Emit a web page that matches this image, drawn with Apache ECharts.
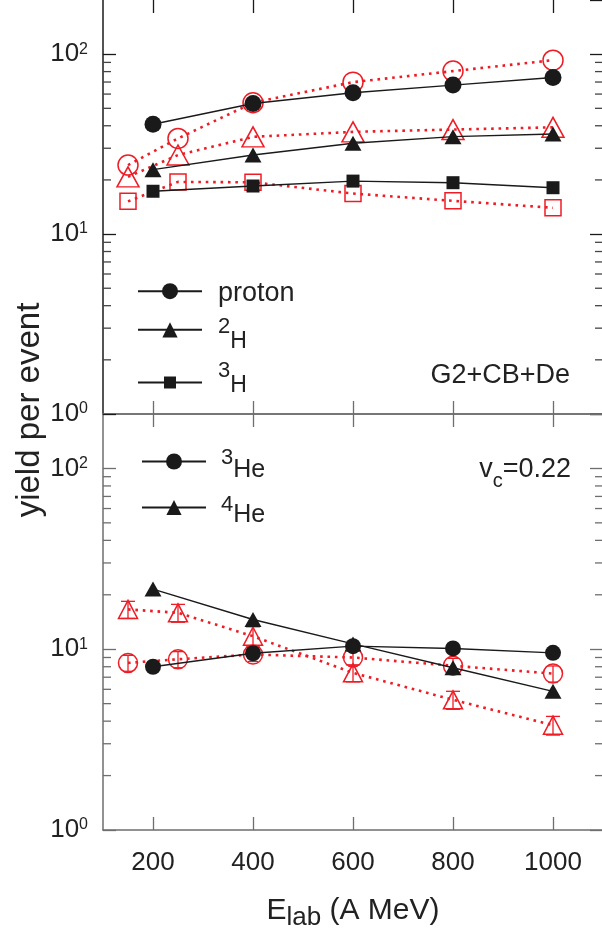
<!DOCTYPE html>
<html>
<head>
<meta charset="utf-8">
<script src="https://cdn.jsdelivr.net/npm/echarts@6/dist/echarts.min.js"></script>
<style>
html,body{margin:0;padding:0;background:#fff;}
#chart{width:602px;height:936px;}
</style>
</head>
<body>
<div id="chart"></div>
<script>
// ---------- data ----------
const xTicks = [200, 400, 600, 800, 1000];
const xMin = 100, xMax = 1100;
const yMin = 1, yMax = 200;
const yMinor = [2, 3, 4, 5, 6, 7, 8, 9, 20, 30, 40, 50, 60, 70, 80, 90];

const energiesExp = [200, 400, 600, 800, 1000];
const energiesModel = [150, 250, 400, 600, 800, 1000];

// top panel (Z=1)
const protonExp   = [40.8, 53.2, 61.0, 67.3, 74.2];
const h2Exp       = [22.8, 27.5, 32.0, 34.8, 36.0];
const h3Exp       = [17.3, 18.5, 19.7, 19.3, 18.1];
const protonModel = [24.2, 34.0, 53.7, 69.9, 80.5, 92.6];
const h2Model     = [20.8, 27.5, 34.7, 37.0, 38.1, 39.2];
const h3Model     = [15.2, 19.5, 19.4, 16.8, 15.3, 14.0];

// bottom panel (Z=2)
const he3Exp      = [8.0, 9.5, 10.4, 10.1, 9.55];
const he4Exp      = [21.5, 14.6, 10.7, 7.9, 5.85];
const he3Model    = [8.4, 8.8, 9.35, 9.0, 8.1, 7.33];
const he4Model    = [16.6, 15.9, 11.8, 7.4, 5.25, 3.8];
const he3ModelErr = [0.85, 0.9, 0.8, 0.9, 0.8, 0.75];
const he4ModelErr = [1.8, 1.8, 1.5, 0.8, 0.6, 0.45];

// ---------- styles ----------
const FONT = '"Liberation Sans", Arial, Helvetica, sans-serif';
const RED = '#ee1c25';
const BLACK = '#1a1a1a';
const GREY = '#6e6e6e';
const TXT = '#222';

function pairs(xs, ys) { return xs.map((x, i) => [x, ys[i]]); }

function yLabelFmt(v) {
  const e = Math.round(Math.log10(v));
  return '{m|10}{s|' + e + '}';
}
const yLabelRich = {
  m: {fontSize: 26, lineHeight: 26, color: TXT, fontFamily: FONT},
  s: {fontSize: 16, lineHeight: 18, verticalAlign: 'top', color: TXT, fontFamily: FONT}
};

function xAxisDef(grid, pos, lineColor, showLine, showLabels) {
  return {
    gridIndex: grid, type: 'value', position: pos, min: xMin, max: xMax,
    axisLine: {show: showLine, onZero: false, lineStyle: {color: lineColor, width: 1.5}},
    axisTick: {show: true, inside: true, length: 13, customValues: xTicks, lineStyle: {color: lineColor, width: 1.3}},
    axisLabel: showLabels ? {show: true, customValues: xTicks, fontSize: 26, color: TXT, fontFamily: FONT, margin: 20,
                             formatter: v => String(v)}
                          : {show: false},
    splitLine: {show: false}
  };
}
function yAxisDef(grid, pos, lineColor, showLabels) {
  return {
    gridIndex: grid, type: 'log', logBase: 10, position: pos, min: yMin, max: yMax,
    axisLine: {show: true, lineStyle: {color: lineColor, width: 1.5}},
    axisTick: {show: true, inside: true, length: 13, lineStyle: {color: lineColor, width: 1.3}},
    axisLabel: showLabels ? {show: true, formatter: yLabelFmt, rich: yLabelRich, margin: 15, showMaxLabel: false}
                          : {show: false},
    splitLine: {show: false},
    minorTick: {show: false}
  };
}

function minorTicks(xi, yi, color) {
  return {
    type: 'custom', xAxisIndex: xi, yAxisIndex: yi, silent: true, z: 1,
    data: yMinor.map(v => [xMin, v]),
    renderItem: function (params, api) {
      const v = api.value(1);
      const pl = api.coord([xMin, v]);
      const pr = api.coord([xMax, v]);
      return {type: 'group', children: [
        {type: 'line', shape: {x1: pl[0], y1: pl[1], x2: pl[0] + 8, y2: pl[1]}, style: {stroke: color, lineWidth: 1.3}},
        {type: 'line', shape: {x1: pr[0] - 8, y1: pr[1], x2: pr[0], y2: pr[1]}, style: {stroke: color, lineWidth: 1.3}}
      ]};
    }
  };
}

function errBars(xi, yi, xs, ys, errs, capHalf) {
  return {
    type: 'custom', xAxisIndex: xi, yAxisIndex: yi, silent: true, z: 3,
    data: xs.map((x, i) => [x, ys[i] - errs[i], ys[i] + errs[i]]),
    encode: {x: 0, y: [1, 2]},
    renderItem: function (params, api) {
      const x = api.value(0);
      const lo = api.coord([x, api.value(1)]);
      const hi = api.coord([x, api.value(2)]);
      const st = {stroke: RED, lineWidth: 1.3};
      return {type: 'group', children: [
        {type: 'line', shape: {x1: lo[0], y1: lo[1], x2: hi[0], y2: hi[1]}, style: st},
        {type: 'line', shape: {x1: lo[0] - capHalf, y1: lo[1], x2: lo[0] + capHalf, y2: lo[1]}, style: st},
        {type: 'line', shape: {x1: hi[0] - capHalf, y1: hi[1], x2: hi[0] + capHalf, y2: hi[1]}, style: st}
      ]};
    }
  };
}

function expSeries(name, xi, yi, xs, ys, symbol, size) {
  return {
    name: name, type: 'line', xAxisIndex: xi, yAxisIndex: yi,
    data: pairs(xs, ys), symbol: symbol, symbolSize: size, showSymbol: true,
    lineStyle: {color: BLACK, width: 1.4}, itemStyle: {color: BLACK}, z: 4,
    animation: false
  };
}
function modelSeries(name, xi, yi, xs, ys, symbol, size) {
  return {
    name: name, type: 'line', xAxisIndex: xi, yAxisIndex: yi,
    data: pairs(xs, ys), symbol: symbol, symbolSize: size, showSymbol: true,
    lineStyle: {color: RED, width: 2.6, type: [2.6, 4.8], cap: 'butt'},
    itemStyle: {color: 'transparent', borderColor: RED, borderWidth: 1.5}, z: 3,
    animation: false
  };
}

function legendDef(name, left, lineY, itemH, fmt, rich) {
  return {
    data: [name], orient: 'vertical', left: left, top: lineY - 25, padding: 0,
    itemWidth: 64, itemHeight: itemH, selectedMode: false,
    formatter: fmt,
    textStyle: {color: TXT, fontFamily: FONT, rich: rich}
  };
}
const tokenSup = (a, b, pl) => ({fontSize: 22, lineHeight: 20, padding: [a, 0, b, pl], color: TXT, fontFamily: FONT});
const tokenMain = (c, d, fs) => ({fontSize: fs, lineHeight: 20, padding: [c, 0, d, 0], color: TXT, fontFamily: FONT});

const chart = echarts.init(document.getElementById('chart'), null, {renderer: 'canvas'});
const option = {
  animation: false,
  backgroundColor: '#ffffff',
  grid: [
    {left: 103, top: 0, width: 500, height: 414, outerBoundsMode: 'none', containLabel: false},
    {left: 103, top: 414, width: 500, height: 416, outerBoundsMode: 'none', containLabel: false}
  ],
  xAxis: [
    xAxisDef(0, 'top', BLACK, false, false),
    xAxisDef(0, 'bottom', GREY, true, false),
    xAxisDef(1, 'top', GREY, true, false),
    Object.assign(xAxisDef(1, 'bottom', GREY, true, true), {
      name: '{a|E}{s|lab}{a| (A MeV)}', nameLocation: 'middle', nameGap: 70,
      nameTextStyle: {rich: {
        a: {fontSize: 30, lineHeight: 30, padding: [0, 0, 8, 0], color: TXT, fontFamily: FONT},
        s: {fontSize: 26, lineHeight: 24, padding: [10, 0, 4, 0], color: TXT, fontFamily: FONT}
      }}
    })
  ],
  yAxis: [
    yAxisDef(0, 'left', BLACK, true),
    yAxisDef(0, 'right', BLACK, false),
    yAxisDef(1, 'left', GREY, true),
    yAxisDef(1, 'right', GREY, false)
  ],
  legend: [
    legendDef('proton', 137, 287.7, 20, '{p|proton}', {p: {fontSize: 27, lineHeight: 20, padding: [17, 0, 13, 11], color: TXT, fontFamily: FONT}}),
    legendDef('2H', 137, 328.3, 19, '{s|2}{m|H}', {s: tokenSup(12.5, 17.5, 11), m: tokenMain(26.5, 3.5, 23)}),
    legendDef('3H', 137, 381, 15, '{s|3}{m|H}', {s: tokenSup(3.5, 26.5, 11), m: tokenMain(18, 12, 23)}),
    legendDef('3He', 141, 459, 20, '{s|3}{m|He}', {s: tokenSup(11.5, 18.5, 10), m: tokenMain(23.5, 6.5, 25)}),
    legendDef('4He', 141, 505, 19, '{s|4}{m|He}', {s: tokenSup(12.5, 17.5, 10), m: tokenMain(22.5, 7.5, 25)})
  ],
  graphic: [
    {type: 'text', x: 30, y: 410, rotation: Math.PI / 2,
     style: {text: 'yield per event', font: '33px ' + FONT, fill: TXT, align: 'center', verticalAlign: 'middle'}},
    {type: 'text', x: 570, y: 376,
     style: {text: 'G2+CB+De', font: '27px ' + FONT, fill: TXT, align: 'right', verticalAlign: 'middle'}},
    {type: 'text', x: 571, y: 475,
     style: {text: '{a|v}{s|c}{a|=0.22}', align: 'right', verticalAlign: 'middle',
       rich: {
         a: {fontSize: 27, lineHeight: 26, padding: [2, 0, 12, 0], fill: TXT, fontFamily: FONT},
         s: {fontSize: 20, lineHeight: 20, padding: [16, 0, 4, 0], fill: TXT, fontFamily: FONT}
       }}}
  ],
  series: [
    minorTicks(1, 0, '#444'),
    minorTicks(3, 2, GREY),
    // top panel
    modelSeries('proton model', 1, 0, energiesModel, protonModel, 'circle', 20),
    modelSeries('2H model', 1, 0, energiesModel, h2Model, 'triangle', [22, 20]),
    modelSeries('3H model', 1, 0, energiesModel, h3Model, 'rect', 16),
    expSeries('proton', 1, 0, energiesExp, protonExp, 'circle', 17),
    expSeries('2H', 1, 0, energiesExp, h2Exp, 'triangle', [17, 15]),
    expSeries('3H', 1, 0, energiesExp, h3Exp, 'rect', 13),
    // bottom panel
    errBars(3, 2, energiesModel, he3Model, he3ModelErr, 5),
    errBars(3, 2, energiesModel, he4Model, he4ModelErr, 7),
    modelSeries('3He model', 3, 2, energiesModel, he3Model, 'circle', 19),
    modelSeries('4He model', 3, 2, energiesModel, he4Model, 'triangle', [19, 18]),
    expSeries('3He', 3, 2, energiesExp, he3Exp, 'circle', 16),
    expSeries('4He', 3, 2, energiesExp, he4Exp, 'triangle', [17, 15])
  ]
};
chart.setOption(option);
</script>
</body>
</html>
